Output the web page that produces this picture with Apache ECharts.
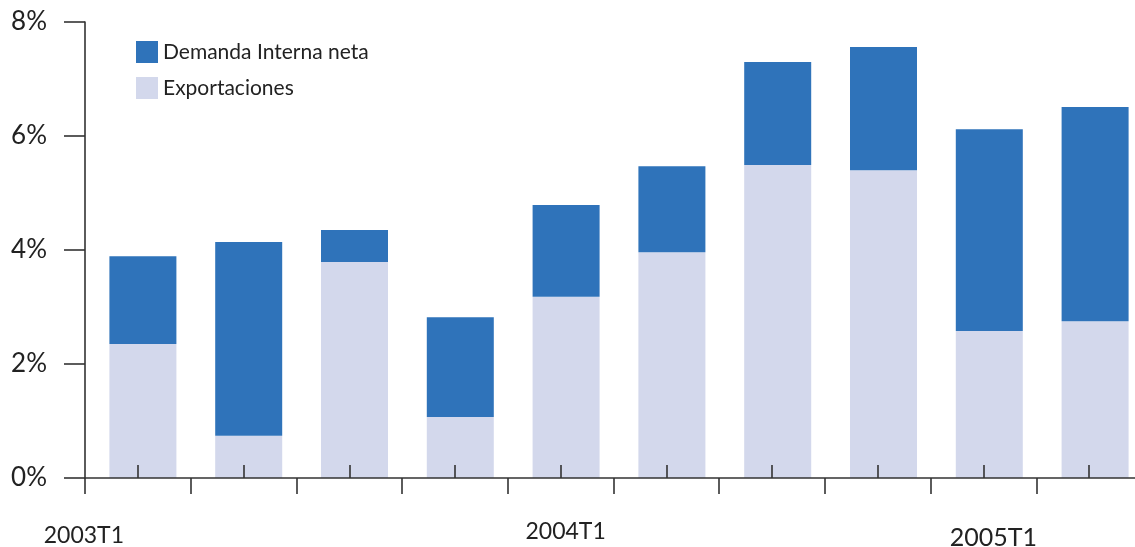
<!DOCTYPE html>
<html>
<head>
<meta charset="utf-8">
<script src="https://cdn.jsdelivr.net/npm/echarts@6/dist/echarts.min.js"></script>
<style>
  html, body { margin: 0; padding: 0; background: #fff; }
  #chart { width: 1135px; height: 547px; }
</style>
</head>
<body>
<div id="chart"></div>
<script>
// Quarters on the horizontal axis
const trimestres = ['2003T1', '2003T2', '2003T3', '2003T4', '2004T1', '2004T2',
                    '2004T3', '2004T4', '2005T1', '2005T2'];
// Quarters that get a visible label
const etiquetasVisibles = ['2003T1', '2004T1', '2005T1'];
// Contributions to growth, in percent
const exportaciones = [2.35, 0.74, 3.79, 1.07, 3.18, 3.96, 5.49, 5.40, 2.58, 2.75];
const demandaInterna = [1.54, 3.40, 0.56, 1.75, 1.61, 1.51, 1.81, 2.16, 3.54, 3.76];
// Value axis ticks
const yMin = 0, yMax = 8, yStep = 2;

const FONT = 'Lato, "Open Sans", sans-serif';
const AXIS_COLOR = '#333';
const BLUE = '#2f73ba';
const LAVENDER = '#d3d8ec';

const chart = echarts.init(document.getElementById('chart'), null, { renderer: 'canvas' });

// label nudges per visible quarter (rich text styles)
const richLabels = {
  a: { fontSize: 23, fontFamily: FONT, color: '#222', padding: [4, 108, 0, 0] },
  b: { fontSize: 23, fontFamily: FONT, color: '#222', padding: [0, 0, 0, 10] },
  c: { fontSize: 25, fontFamily: FONT, color: '#222', padding: [5, 0, 0, 20] }
};
const richKey = { '2003T1': 'a', '2004T1': 'b', '2005T1': 'c' };

chart.setOption({
  animation: false,
  backgroundColor: '#fff',
  textStyle: { fontFamily: FONT },
  legend: {
    orient: 'vertical',
    left: 136,
    top: 41,
    padding: 0,
    itemWidth: 22,
    itemHeight: 22,
    itemGap: 14,
    textStyle: { fontSize: 21, color: '#222', fontFamily: FONT },
    data: [
      { name: 'Demanda Interna neta', icon: 'rect' },
      { name: 'Exportaciones', icon: 'rect' }
    ]
  },
  grid: [
    { left: 85, width: 1057, top: 22, height: 456, outerBoundsMode: 'none', containLabel: false },
    { left: 90, width: 1058, top: 22, height: 456, outerBoundsMode: 'none', containLabel: false }
  ],
  xAxis: [
    {
      type: 'category', gridIndex: 0, data: trimestres, z: 5, position: 'bottom',
      axisLine: { show: true, lineStyle: { color: AXIS_COLOR, width: 1.6 } },
      axisTick: { show: true, length: 16, lineStyle: { color: AXIS_COLOR, width: 1.6 } },
      axisLabel: {
        interval: 0,
        margin: 42,
        formatter: v => etiquetasVisibles.includes(v) ? '{' + richKey[v] + '|' + v + '}' : '',
        rich: richLabels
      }
    },
    {
      type: 'category', gridIndex: 0, data: trimestres, z: 5, position: 'bottom',
      axisLine: { show: false },
      axisTick: { show: true, inside: true, alignWithLabel: true, length: 13,
                  lineStyle: { color: AXIS_COLOR, width: 1.6 } },
      axisLabel: { show: false }
    },
    {
      type: 'category', gridIndex: 1, data: trimestres, show: false
    }
  ],
  yAxis: [
    {
      type: 'value', gridIndex: 0, min: yMin, max: yMax, interval: yStep, z: 5,
      axisLine: { show: true, lineStyle: { color: AXIS_COLOR, width: 1.6 } },
      axisTick: { show: true, length: 21, lineStyle: { color: AXIS_COLOR, width: 1.6 } },
      splitLine: { show: false },
      axisLabel: { formatter: '{value}%', margin: 38, fontSize: 26, color: '#222', fontFamily: FONT }
    },
    {
      type: 'value', gridIndex: 1, min: yMin, max: yMax, interval: yStep, show: false,
      splitLine: { show: false }
    }
  ],
  series: [
    {
      name: 'Exportaciones', type: 'bar', stack: 'total',
      xAxisIndex: 2, yAxisIndex: 1,
      barWidth: 67,
      itemStyle: { color: LAVENDER },
      data: exportaciones
    },
    {
      name: 'Demanda Interna neta', type: 'bar', stack: 'total',
      xAxisIndex: 2, yAxisIndex: 1,
      barWidth: 67,
      itemStyle: { color: BLUE },
      data: demandaInterna
    }
  ]
});
</script>
</body>
</html>
